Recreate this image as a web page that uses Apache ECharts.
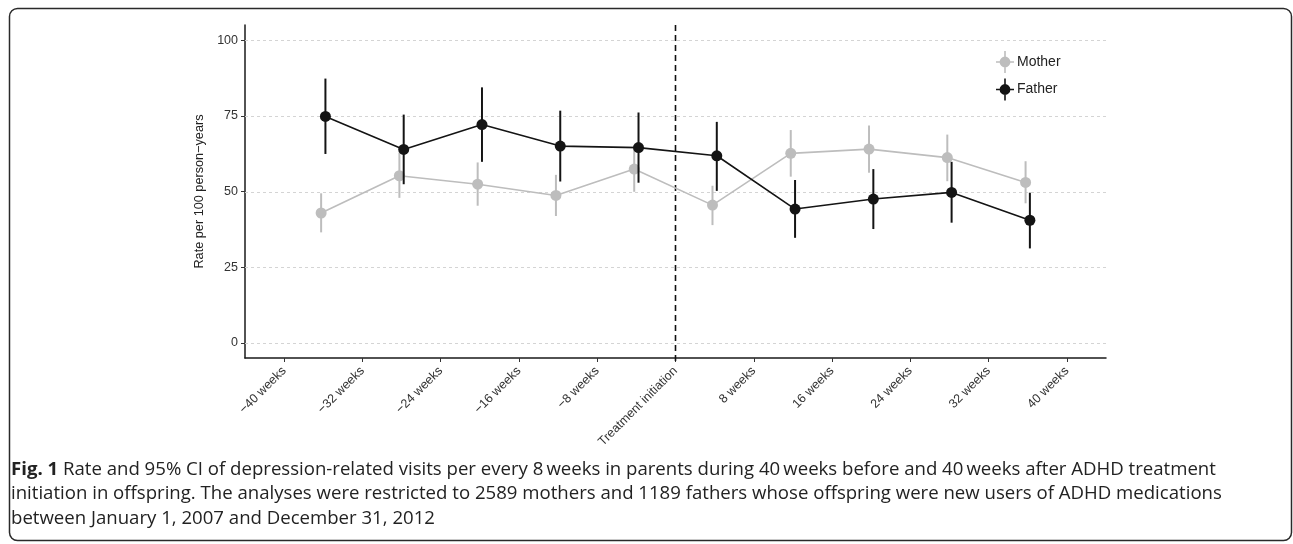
<!DOCTYPE html>
<html>
<head>
<meta charset="utf-8">
<script src="https://cdn.jsdelivr.net/npm/echarts@6/dist/echarts.min.js"></script>
<style>
html,body{margin:0;padding:0;background:#fff;}
#chart{width:1293px;height:544px;}
</style>
</head>
<body>
<div id="chart"></div>
<script>
// ---- data ----
const weeks = [-36, -28, -20, -12, -4, 4, 12, 20, 28, 36];
const motherRate = [42.9, 55.2, 52.4, 48.7, 57.4, 45.5, 62.6, 64.0, 61.2, 53.0];
const motherLow  = [36.5, 47.9, 45.3, 41.9, 49.9, 38.9, 54.9, 56.2, 53.4, 46.1];
const motherHigh = [49.4, 62.8, 59.6, 55.5, 64.9, 51.9, 70.3, 71.8, 68.8, 60.0];
const fatherRate = [74.8, 63.9, 72.1, 65.0, 64.5, 61.8, 44.2, 47.5, 49.7, 40.5];
const fatherLow  = [62.4, 52.4, 59.8, 53.3, 52.9, 50.2, 34.7, 37.6, 39.7, 31.2];
const fatherHigh = [87.3, 75.4, 84.4, 76.7, 76.1, 73.0, 53.8, 57.4, 59.8, 49.6];
const xTickValues = [-40, -32, -24, -16, -8, 0, 8, 16, 24, 32, 40];
const xTickLabels = ['\u221240 weeks', '\u221232 weeks', '\u221224 weeks', '\u221216 weeks', '\u22128 weeks',
  'Treatment initiation', '8 weeks', '16 weeks', '24 weeks', '32 weeks', '40 weeks'];
const yTickValues = [0, 25, 50, 75, 100];
const seriesNames = ['Mother', 'Father'];
const yAxisTitle = 'Rate per 100 person\u2212years';
const captionLines = [
  'Rate and 95% CI of depression-related visits per every 8\u2009weeks in parents during 40\u2009weeks before and 40\u2009weeks after ADHD treatment',
  'initiation in offspring. The analyses were restricted to 2589 mothers and 1189 fathers whose offspring were new users of ADHD medications',
  'between January 1, 2007 and December 31, 2012'
];
const captionLabel = 'Fig. 1';

// ---- styling ----
const MOTHER_COLOR = '#bdbdbd';
const FATHER_COLOR = '#141414';
const DODGE = 0.22;
const CAP_FONT = 'Open Sans, sans-serif';
const CAP_SIZE = 18.6;

function pts(xs, ys, off) { return xs.map((x, i) => [x + off, ys[i]]); }
function bars(xs, lo, hi, off) { return xs.map((x, i) => [x + off, lo[i], hi[i]]); }

function errRender(color) {
  return function (params, api) {
    const p1 = api.coord([api.value(0), api.value(1)]);
    const p2 = api.coord([api.value(0), api.value(2)]);
    return { type: 'line', shape: { x1: p1[0], y1: p1[1], x2: p2[0], y2: p2[1] },
      style: { stroke: color, lineWidth: 2 } };
  };
}

const legendIcon = 'path://M0,10.25L18,10.25L18,11.75L0,11.75Z M8.2,0L9.8,0L9.8,22L8.2,22Z M14.4,11A5.4,5.4 0 1 1 3.6,11A5.4,5.4 0 1 1 14.4,11Z';

const chart = echarts.init(document.getElementById('chart'), null, { renderer: 'canvas' });
const font = 'Liberation Sans, Arial, Helvetica, sans-serif';

const option = {
  animation: false,
  backgroundColor: '#fff',
  grid: { left: 245, top: 25, width: 861, height: 333, containLabel: false },
  legend: {
    data: seriesNames,
    orient: 'vertical',
    left: 996, top: 51, padding: 0,
    itemWidth: 18, itemHeight: 22, itemGap: 5.5,
    icon: legendIcon,
    textStyle: { fontFamily: font, fontSize: 14, color: '#222', padding: [0, 0, 0, -2] },
    selectedMode: false
  },
  xAxis: {
    type: 'value', min: -44, max: 44,
    axisLine: { show: true, onZero: false, lineStyle: { color: '#1a1a1a', width: 1.5 } },
    axisTick: { show: true, customValues: xTickValues, length: 4, lineStyle: { color: '#333', width: 1 } },
    axisLabel: {
      customValues: xTickValues, rotate: 45, margin: 11,
      fontFamily: font, fontSize: 12.5, color: '#333',
      padding: [26, 0, 0, 0], lineHeight: 13,
      formatter: function (v) { const i = xTickValues.indexOf(v); return i >= 0 ? xTickLabels[i] : ''; }
    },
    splitLine: { show: false }
  },
  yAxis: {
    type: 'value', min: -5, max: 105,
    name: yAxisTitle, nameLocation: 'middle', nameGap: 32, nameRotate: 90,
    nameTextStyle: { fontFamily: font, fontSize: 12.7, color: '#222' },
    axisLine: { show: true, onZero: false, lineStyle: { color: '#1a1a1a', width: 1.5 } },
    axisTick: { show: true, customValues: yTickValues, length: 4, lineStyle: { color: '#333', width: 1 } },
    axisLabel: { customValues: yTickValues, margin: 7, fontFamily: font, fontSize: 12.5, color: '#333' },
    splitLine: { show: false }
  },
  series: [
    {
      type: 'custom', name: 'grid', silent: true, z: 1,
      data: yTickValues.map(v => [0, v]), encode: { x: 0, y: 1 },
      renderItem: function (params, api) {
        const cs = params.coordSys;
        const y = Math.round(api.coord([0, api.value(1)])[1]) + 0.5;
        return { type: 'line', shape: { x1: cs.x, y1: y, x2: cs.x + cs.width, y2: y },
          style: { stroke: '#d4d4d4', lineWidth: 1, lineDash: [3, 3] } };
      }
    },
    {
      type: 'custom', name: 'vline', silent: true, z: 2,
      data: [[0, 0]], encode: { x: 0, y: 1 },
      renderItem: function (params, api) {
        const cs = params.coordSys;
        const x = api.coord([api.value(0), 0])[0];
        return { type: 'line', shape: { x1: x, y1: cs.y, x2: x, y2: cs.y + cs.height + 4 },
          style: { stroke: '#111', lineWidth: 1.6, lineDash: [6, 4] } };
      }
    },
    {
      type: 'custom', name: 'MotherCI', silent: true, z: 3,
      data: bars(weeks, motherLow, motherHigh, -DODGE), encode: { x: 0, y: [1, 2] },
      renderItem: errRender(MOTHER_COLOR)
    },
    {
      type: 'line', name: seriesNames[0], z: 4,
      data: pts(weeks, motherRate, -DODGE),
      symbol: 'circle', symbolSize: 11, showSymbol: true,
      lineStyle: { color: MOTHER_COLOR, width: 1.6 },
      itemStyle: { color: MOTHER_COLOR },
      emphasis: { disabled: true }
    },
    {
      type: 'custom', name: 'FatherCI', silent: true, z: 5,
      data: bars(weeks, fatherLow, fatherHigh, DODGE), encode: { x: 0, y: [1, 2] },
      renderItem: errRender(FATHER_COLOR)
    },
    {
      type: 'line', name: seriesNames[1], z: 6,
      data: pts(weeks, fatherRate, DODGE),
      symbol: 'circle', symbolSize: 11, showSymbol: true,
      lineStyle: { color: FATHER_COLOR, width: 1.6 },
      itemStyle: { color: FATHER_COLOR },
      emphasis: { disabled: true }
    }
  ],
  graphic: [
    {
      type: 'rect', silent: true, z: 0,
      shape: { x: 9.5, y: 8.5, width: 1282, height: 532, r: 8 },
      style: { fill: 'none', stroke: '#2a2a2a', lineWidth: 1.5 }
    },
    {
      type: 'text', left: 11, top: 460,
      style: {
        text: '{b|' + captionLabel + '} ' + captionLines[0],
        fontFamily: CAP_FONT, fontSize: CAP_SIZE, fill: '#222',
        rich: { b: { fontFamily: CAP_FONT, fontSize: CAP_SIZE, fontWeight: 'bold', fill: '#222' } }
      }
    },
    {
      type: 'text', left: 11, top: 484.5,
      style: { text: captionLines[1], fontFamily: CAP_FONT, fontSize: CAP_SIZE, fill: '#222' }
    },
    {
      type: 'text', left: 11, top: 509,
      style: { text: captionLines[2], fontFamily: CAP_FONT, fontSize: CAP_SIZE, fill: '#222' }
    }
  ]
};
chart.setOption(option);
</script>
</body>
</html>
